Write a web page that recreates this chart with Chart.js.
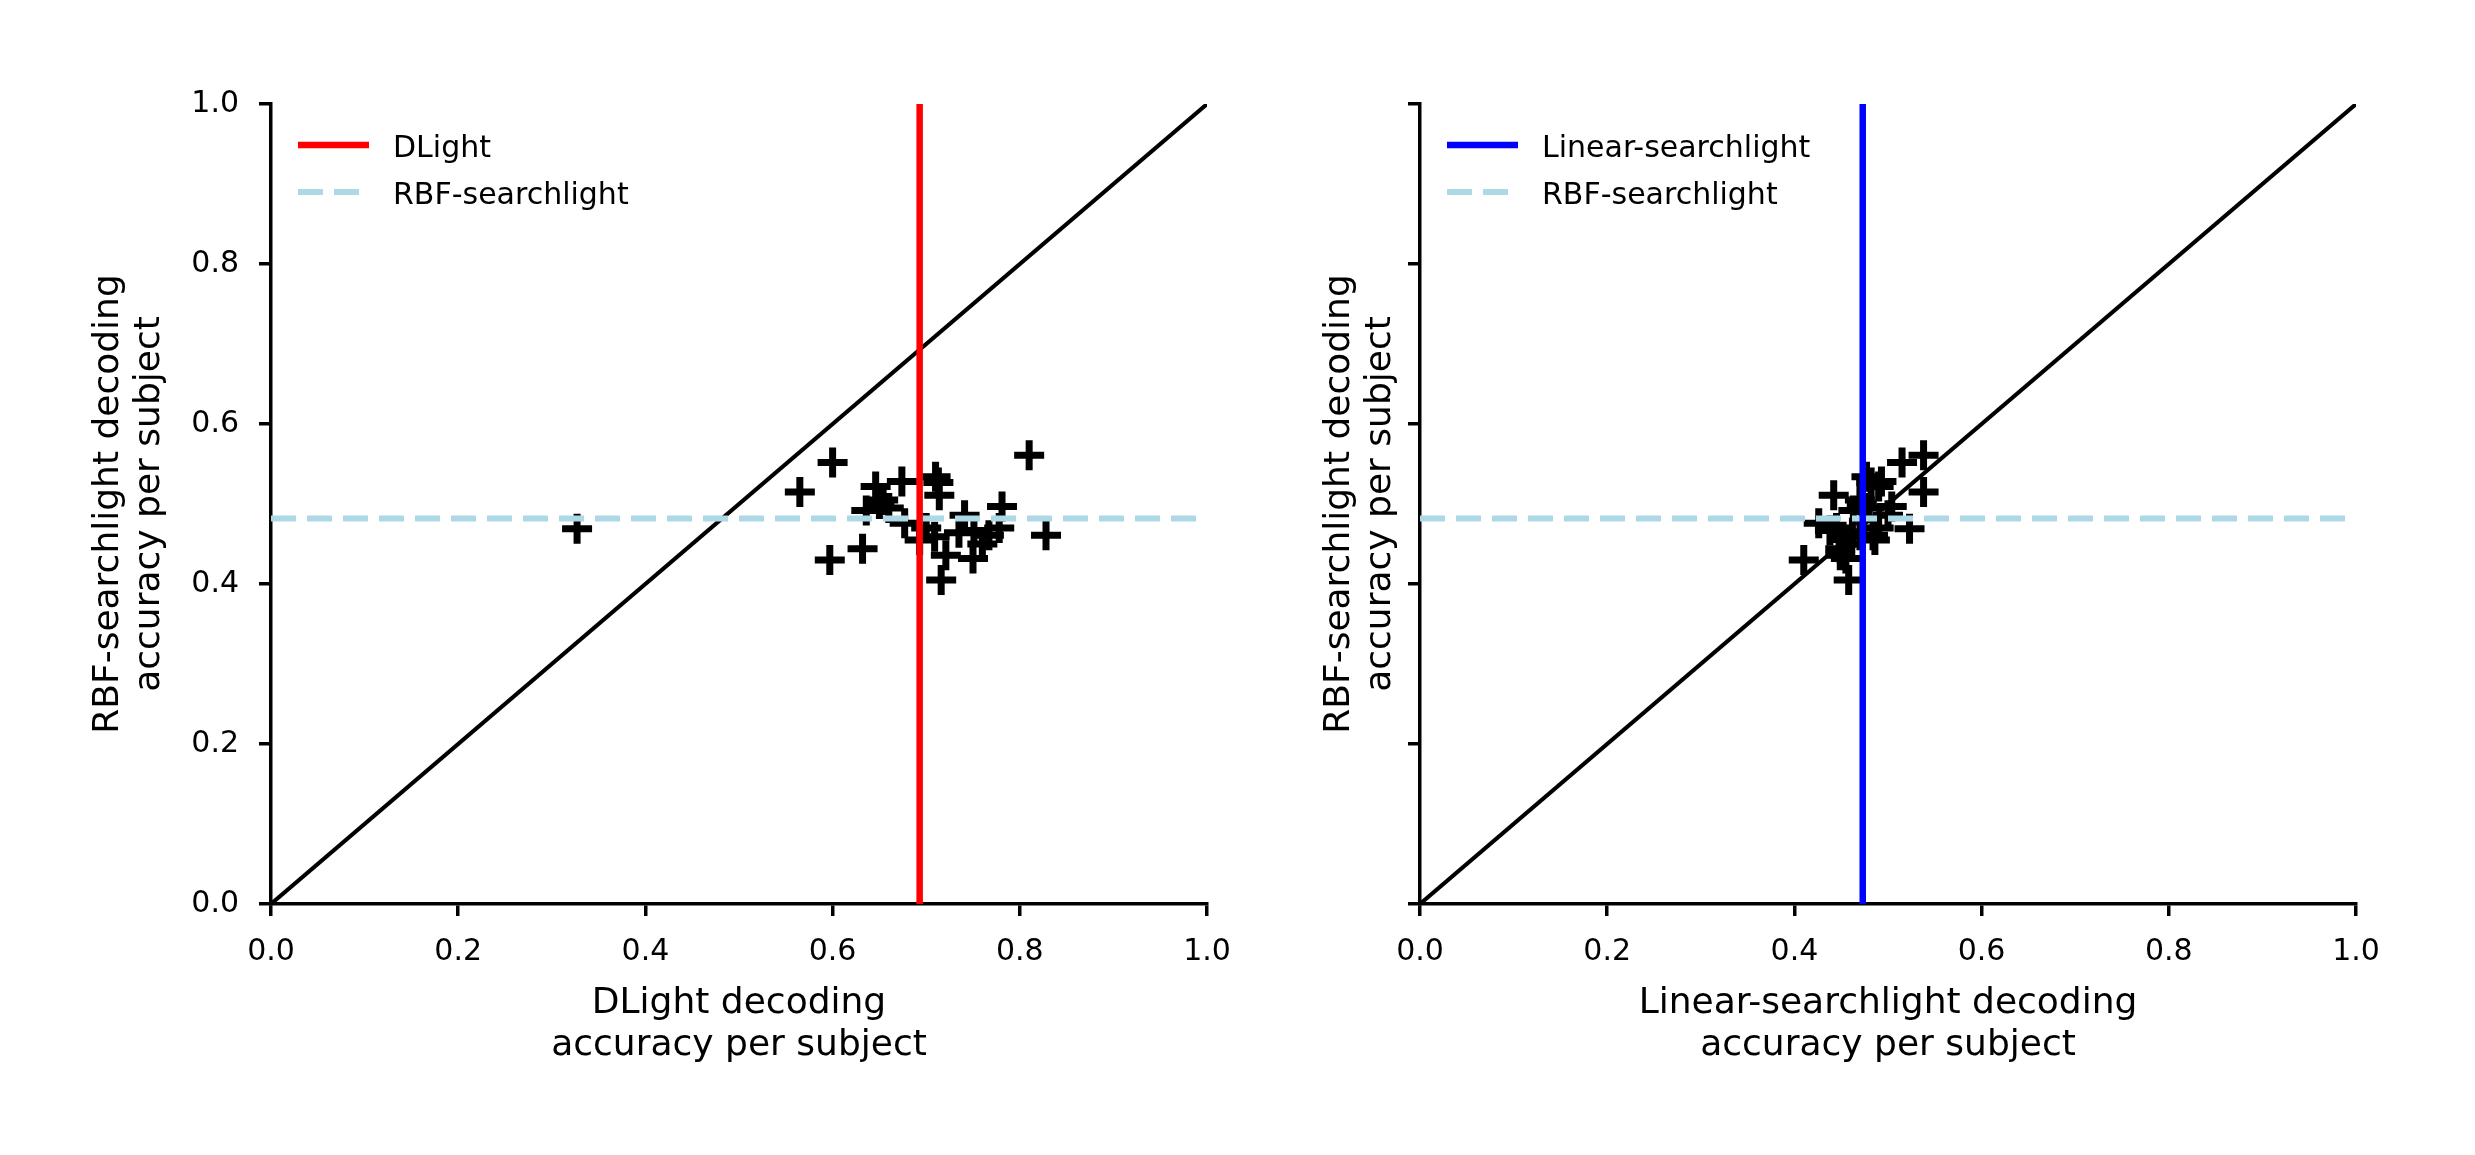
<!DOCTYPE html>
<html>
<head>
<meta charset="utf-8">
<script src="https://cdn.jsdelivr.net/npm/chart.js@4.4.1/dist/chart.umd.min.js"></script>
<style>
  html, body { margin: 0; padding: 0; background: #fff; }
  #wrap { position: relative; width: 2475px; height: 1155px; }
  canvas { position: absolute; top: 0; }
</style>
</head>
<body>
<div id="wrap">
  <canvas id="left" width="1280" height="1155" style="left:0"></canvas>
  <canvas id="right" width="1238" height="1155" style="left:1237px"></canvas>
</div>
<script>
// per subject decoding accuracy
const dlightAcc = [0.327, 0.565, 0.600, 0.597, 0.632, 0.636, 0.646, 0.654, 0.660, 0.674,
                   0.677, 0.710, 0.714, 0.709, 0.716, 0.721, 0.750, 0.741, 0.751, 0.767,
                   0.781, 0.810, 0.828, 0.735, 0.693, 0.778, 0.713, 0.760, 0.700, 0.650];
const rbfAcc    = [0.469, 0.515, 0.552, 0.430, 0.444, 0.492, 0.522, 0.505, 0.495, 0.528,
                   0.476, 0.534, 0.511, 0.459, 0.405, 0.436, 0.432, 0.486, 0.467, 0.461,
                   0.497, 0.561, 0.461, 0.464, 0.455, 0.470, 0.527, 0.450, 0.470, 0.500];
const linearAcc = [0.523, 0.538, 0.515, 0.410, 0.449, 0.463, 0.490, 0.470, 0.480, 0.493,
                   0.426, 0.477, 0.442, 0.452, 0.458, 0.449, 0.455, 0.500, 0.438, 0.484,
                   0.504, 0.538, 0.470, 0.462, 0.486, 0.445, 0.482, 0.460, 0.490, 0.472];
const dlightMean = 0.693;
const linearMean = 0.473;
const rbfMean = 0.482;
const tickValues = [0.0, 0.2, 0.4, 0.6, 0.8, 1.0];

Chart.defaults.font.family = 'DejaVu Sans';
Chart.defaults.color = '#000';

// matplotlib style legend sitting in the upper left corner of the axes
const cornerLegend = {
  id: 'cornerLegend',
  afterDraw(chart) {
    const ctx = chart.ctx;
    const a = chart.chartArea;
    chart.data.datasets.slice(0, 2).forEach((ds, i) => {
      const y = a.top + 41 + i * 47;
      ctx.save();
      ctx.strokeStyle = ds.borderColor;
      ctx.lineWidth = ds.borderWidth;
      ctx.setLineDash(ds.borderDash || []);
      ctx.beginPath();
      ctx.moveTo(a.left + 27, y);
      ctx.lineTo(a.left + 98, y);
      ctx.stroke();
      ctx.setLineDash([]);
      ctx.fillStyle = '#000';
      ctx.font = '30px "DejaVu Sans"';
      ctx.textBaseline = 'alphabetic';
      ctx.fillText(ds.label, a.left + 122, y + 12);
      ctx.restore();
    });
  }
};

function makeChart(id, xData, xMean, name, color, cfg) {
  const points = xData.map((x, i) => ({ x: x, y: rbfAcc[i] }));
  const axisLine = { display: true, color: '#000', width: 3.5 };
  const setTicks = s => { s.ticks = tickValues.map(v => ({ value: v })); };
  return new Chart(document.getElementById(id), {
    type: 'scatter',
    data: {
      datasets: [
        { label: name, data: [{ x: xMean, y: 0 }, { x: xMean, y: 1 }], showLine: true,
          borderColor: color, borderWidth: 6.5, pointRadius: 0 },
        { label: 'RBF-searchlight', data: [{ x: 0, y: rbfMean }, { x: 1, y: rbfMean }], showLine: true,
          borderColor: '#add8e6', borderWidth: 6, borderDash: [25, 11], pointRadius: 0 },
        { label: 'diag', data: [{ x: 0, y: 0 }, { x: 1, y: 1 }], showLine: true,
          borderColor: '#000', borderWidth: 4, pointRadius: 0 },
        { label: 'subjects', data: points, pointStyle: 'cross', pointRadius: 15,
          pointBorderWidth: 7, borderColor: '#000', backgroundColor: '#000' }
      ]
    },
    plugins: [cornerLegend],
    options: {
      responsive: false,
      animation: false,
      devicePixelRatio: 1,
      events: [],
      layout: { padding: { left: cfg.padLeft, right: cfg.padRight, top: 104, bottom: 89 } },
      plugins: {
        tooltip: { enabled: false },
        legend: { display: false }
      },
      scales: {
        x: {
          type: 'linear', min: 0, max: 1,
          afterBuildTicks: setTicks,
          afterFit: s => { s.height = 162; },
          border: axisLine,
          grid: { drawOnChartArea: false, drawTicks: true, tickLength: 12, color: '#000', lineWidth: 3.5 },
          ticks: { font: { size: 30 }, padding: 18, maxRotation: 0, callback: v => v.toFixed(1) },
          title: { display: true, text: [name + ' decoding', 'accuracy per subject'],
                   font: { size: 36, lineHeight: 1.15 }, padding: 0 }
        },
        y: {
          type: 'linear', min: 0, max: 1,
          afterBuildTicks: setTicks,
          afterFit: s => { s.width = cfg.yWidth; },
          border: axisLine,
          grid: { drawOnChartArea: false, drawTicks: true, tickLength: 12, color: '#000', lineWidth: 3.5 },
          ticks: { font: { size: 30 }, padding: 20,
                   callback: v => cfg.yLabels ? v.toFixed(1) : '' },
          title: { display: true, text: ['RBF-searchlight decoding', 'accuracy per subject'],
                   font: { size: 36, lineHeight: 1.15 }, padding: 0 }
        }
      }
    }
  });
}

makeChart('left', dlightAcc, dlightMean, 'DLight', '#ff0000',
          { padLeft: 88, padRight: 73, yWidth: 183, yLabels: true });
makeChart('right', linearAcc, linearMean, 'Linear-searchlight', '#0000ff',
          { padLeft: 82, padRight: 119, yWidth: 101, yLabels: false });
</script>
</body>
</html>
